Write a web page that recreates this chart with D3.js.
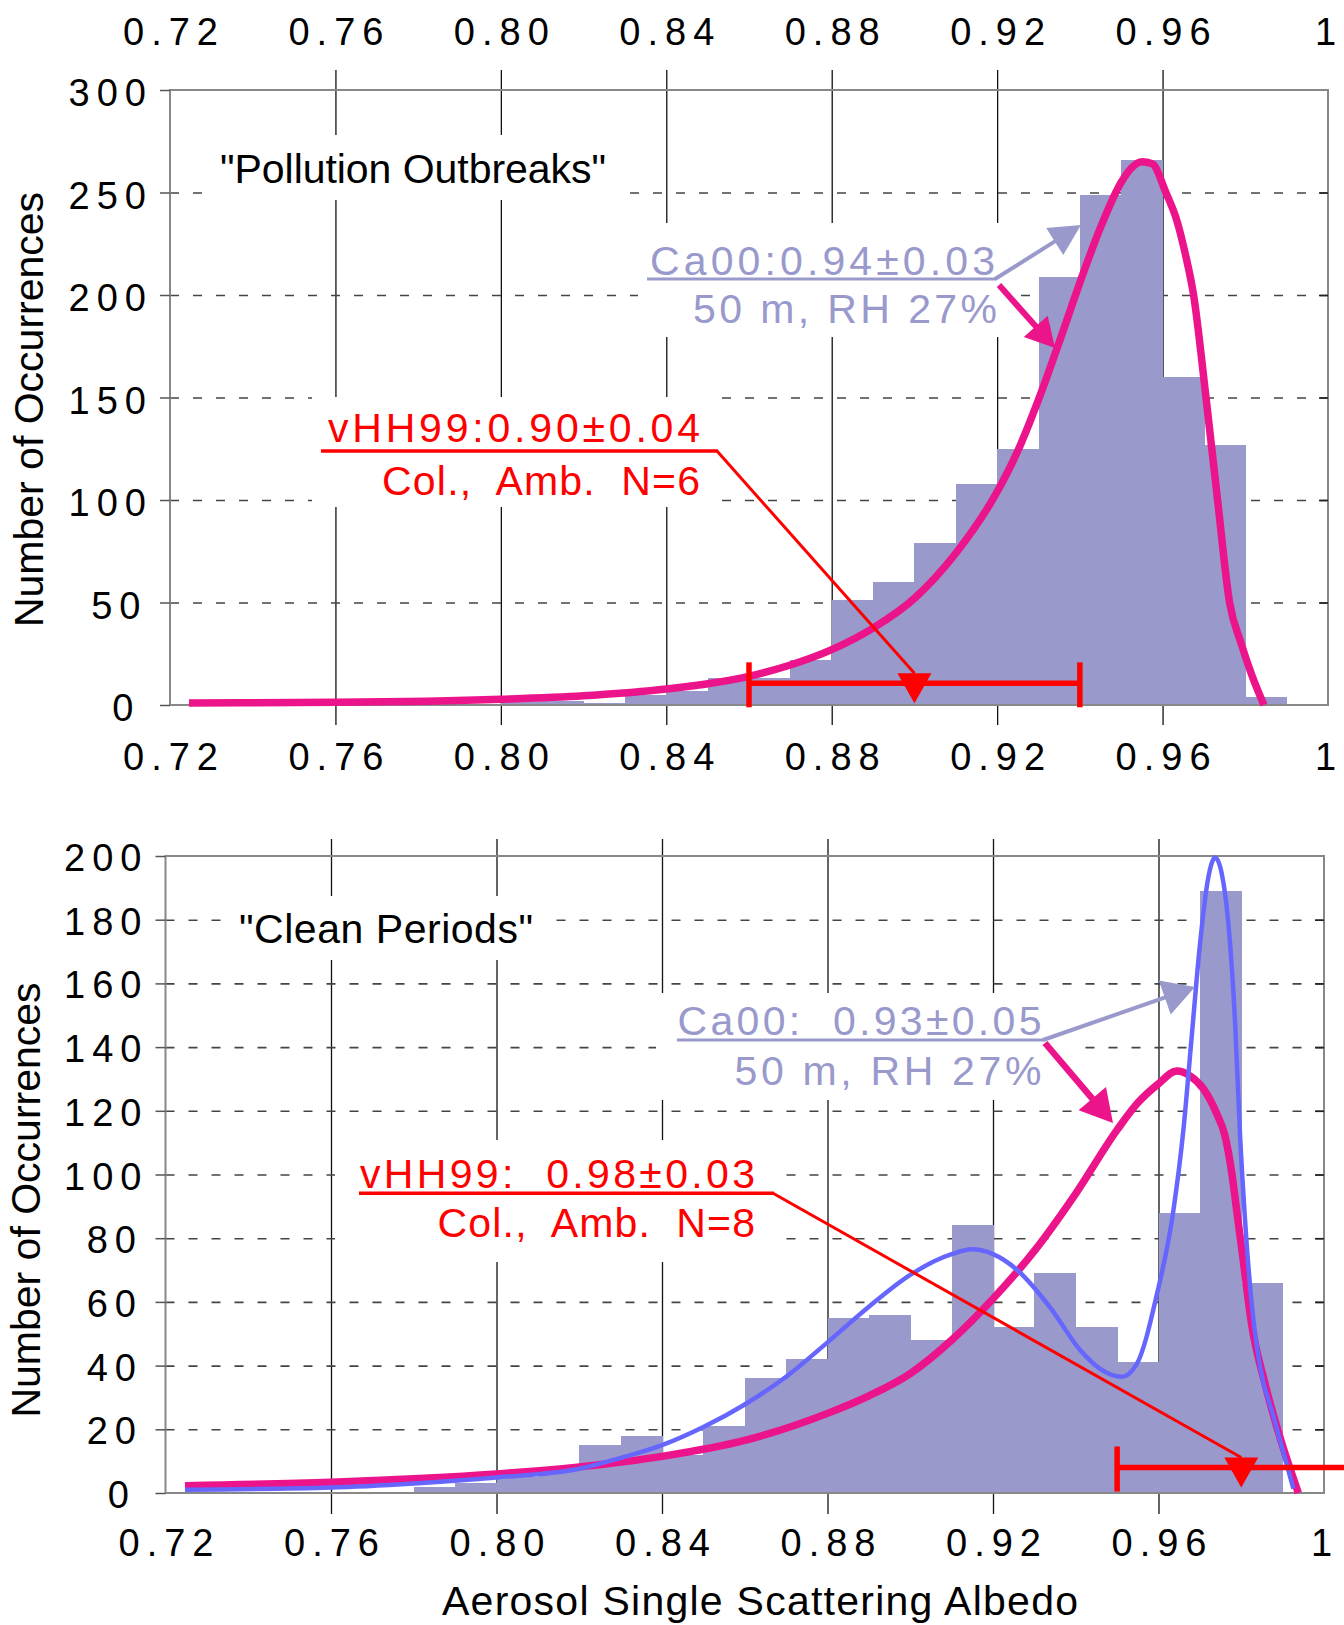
<!DOCTYPE html>
<html>
<head>
<meta charset="utf-8">
<script src="https://cdn.jsdelivr.net/npm/d3@7"></script>
<style>
  body { margin: 0; background: #fff; }
  svg text { font-family: "Liberation Sans", Arial, Helvetica, sans-serif; }
</style>
</head>
<body>
<svg id="chart" width="1344" height="1625"></svg>
<script>
// ---- values ----
var xTicks = [0.72, 0.76, 0.80, 0.84, 0.88, 0.92, 0.96, 1.0];
var xTickLabels = ["0.72", "0.76", "0.80", "0.84", "0.88", "0.92", "0.96", "1"];
var binWidth = 0.01;

// "Pollution Outbreaks"
var pollYTicks = [0, 50, 100, 150, 200, 250, 300];
var pollBins = [0.80, 0.81, 0.82, 0.83, 0.84, 0.85, 0.86, 0.87, 0.88, 0.89,
                0.90, 0.91, 0.92, 0.93, 0.94, 0.95, 0.96, 0.97, 0.98];
var pollCounts = [2, 2, 1, 5, 7, 13, 13, 22, 51, 60,
                  79, 108, 125, 209, 249, 266, 160, 127, 4];
var pollFit = [[0.7246, 1], [0.76, 1.3], [0.80, 2.8], [0.82, 4.5], [0.84, 7.8],
  [0.86, 14], [0.87, 19.5], [0.88, 27], [0.89, 37.5], [0.90, 52], [0.91, 74],
  [0.92, 104], [0.925, 124], [0.93, 149], [0.935, 177], [0.94, 206], [0.945, 233],
  [0.95, 255], [0.9525, 262], [0.955, 265], [0.9575, 264], [0.9608, 250],
  [0.9635, 236], [0.9655, 220], [0.9675, 200], [0.9705, 150], [0.9733, 100],
  [0.9762, 50], [0.979, 30], [0.9815, 15], [0.9845, 0]];

// "Clean Periods"
var cleanYTicks = [0, 20, 40, 60, 80, 100, 120, 140, 160, 180, 200];
var cleanBins = [0.78, 0.79, 0.80, 0.81, 0.82, 0.83, 0.84, 0.85, 0.86, 0.87, 0.88,
                 0.89, 0.90, 0.91, 0.92, 0.93, 0.94, 0.95, 0.96, 0.97, 0.98];
var cleanCounts = [2, 3, 5, 8, 15, 18, 12, 21, 36, 42, 55,
                   56, 48, 84, 52, 69, 52, 41, 88, 189, 66];
var cleanFit = [[0.7247, 2.3], [0.76, 3.4], [0.80, 6], [0.82, 8.2], [0.84, 11.5],
  [0.86, 16.5], [0.88, 25], [0.89, 30.5], [0.90, 37.5], [0.91, 48], [0.92, 61],
  [0.93, 76], [0.94, 94], [0.95, 114], [0.955, 122.5], [0.96, 128.5], [0.9644, 132.5],
  [0.9676, 131], [0.9708, 127], [0.9741, 119], [0.9761, 112], [0.9777, 100.6],
  [0.9789, 88.7], [0.9805, 72.8], [0.9825, 53], [0.9857, 34.5], [0.9894, 17.3],
  [0.9938, 0]];
var cleanCa00Fit = [[0.7247, 1], [0.76, 1.7], [0.78, 3], [0.80, 4.9], [0.82, 7.6],
  [0.83, 11], [0.84, 15], [0.85, 20.7], [0.86, 27.8], [0.87, 36.5], [0.88, 47.3],
  [0.89, 58.5], [0.90, 68.5], [0.91, 75], [0.915, 76.5], [0.92, 75], [0.9257, 70.2],
  [0.9338, 58.3], [0.941, 45], [0.9459, 39], [0.9511, 36.5], [0.9547, 40.4],
  [0.9596, 62.3], [0.9636, 88.7], [0.966, 113.8], [0.968, 142.9], [0.97, 172],
  [0.972, 193], [0.9737, 199.5], [0.9753, 194.4], [0.9769, 178.6], [0.9785, 148],
  [0.9797, 112.5], [0.9809, 86], [0.9825, 59.7], [0.9845, 40], [0.9878, 24],
  [0.9926, 1.4]];

// vHH99 column retrievals: mean and spread
var vhhMean = [0.90, 0.98];
var vhhSd = [0.04, 0.03];

var pink = "#ec148a", lavender = "#9999cc", blue = "#6666ff", red = "#ff0000";
var labelShift = { 1: 12.5, 2: 5.5, 3: 0 };

var svg = d3.select("#chart");

function styleXLabels(sel, yy) {
  sel.attr("y", yy).attr("dy", null)
    .attr("font-size", 38).attr("fill", "#000")
    .attr("letter-spacing", function (d, i) { return i === xTicks.length - 1 ? 0 : 7; })
    .attr("dx", function (d, i) { return i === xTicks.length - 1 ? -3 : 3.5; });
}

function drawPanel(p) {
  var x = d3.scaleLinear().domain([0.72, 1.0]).range([p.left, p.right]);
  var y = d3.scaleLinear().domain([0, p.yMax]).range([p.bottom, p.top]);
  var g = svg.append("g");

  // vertical grid, running past the frame as ticks
  var vg = g.append("g")
    .attr("transform", "translate(0," + (p.top - p.tickUp) + ")")
    .call(d3.axisBottom(x).tickValues(xTicks.slice(1, -1))
      .tickSize(p.bottom - p.top + p.tickUp + p.tickDown).tickFormat(""));
  vg.select(".domain").remove();
  vg.selectAll("line").attr("stroke", "#111").attr("stroke-width", 1.3);

  // dashed horizontal grid
  var hg = g.append("g")
    .attr("transform", "translate(" + p.left + ",0)")
    .call(d3.axisRight(y).tickValues(p.yTicks.slice(1, -1))
      .tickSize(p.right - p.left).tickFormat(""));
  hg.select(".domain").remove();
  hg.selectAll("line").attr("stroke", "#444").attr("stroke-width", 1.6)
    .attr("stroke-dasharray", "9,14");

  // white patches behind the annotation texts
  g.selectAll(".box").data(p.boxes).enter().append("rect")
    .attr("x", function (d) { return d[0]; })
    .attr("y", function (d) { return d[1]; })
    .attr("width", function (d) { return d[2] - d[0]; })
    .attr("height", function (d) { return d[3] - d[1]; })
    .attr("fill", "#fff");

  // histogram
  var bars = p.bins.map(function (b, i) { return [b, p.counts[i]]; });
  g.selectAll(".bar").data(bars).enter().append("rect")
    .attr("x", function (d) { return x(d[0]); })
    .attr("width", function (d) { return x(d[0] + binWidth) - x(d[0]) + 0.6; })
    .attr("y", function (d) { return y(d[1]); })
    .attr("height", function (d) { return y(0) - y(d[1]); })
    .attr("fill", lavender)
    .attr("shape-rendering", "crispEdges");

  // frame
  g.append("rect")
    .attr("x", p.left).attr("y", p.top)
    .attr("width", p.right - p.left).attr("height", p.bottom - p.top)
    .attr("fill", "none").attr("stroke", "#888").attr("stroke-width", 2);

  // left axis: stubs + labels
  var ya = g.append("g").attr("transform", "translate(" + p.left + ",0)")
    .call(d3.axisLeft(y).tickValues(p.yTicks).tickSize(10));
  ya.select(".domain").remove();
  ya.selectAll("line").attr("stroke", "#555").attr("stroke-width", 1.5);
  ya.selectAll("text")
    .attr("x", function (d) { return p.yLabelR - p.left + 7 - labelShift[String(d).length]; })
    .attr("dy", null).attr("y", p.yLabelDy)
    .attr("font-size", 38).attr("letter-spacing", 7).attr("fill", "#000");

  // right side inner ticks
  var yr = g.append("g").attr("transform", "translate(" + p.right + ",0)")
    .call(d3.axisLeft(y).tickValues(p.yTicks.slice(1, -1)).tickSize(9).tickFormat(""));
  yr.select(".domain").remove();
  yr.selectAll("line").attr("stroke", "#222").attr("stroke-width", 1.6);

  // bottom labels
  var xa = g.append("g").attr("transform", "translate(0," + p.bottom + ")")
    .call(d3.axisBottom(x).tickValues(xTicks).tickSize(0)
      .tickFormat(function (d, i) { return xTickLabels[i]; }));
  xa.select(".domain").remove();
  styleXLabels(xa.selectAll("text"), p.labelY - p.bottom);

  if (p.topLabelY) {
    var xt = g.append("g").attr("transform", "translate(0," + p.top + ")")
      .call(d3.axisTop(x).tickValues(xTicks).tickSize(0)
        .tickFormat(function (d, i) { return xTickLabels[i]; }));
    xt.select(".domain").remove();
    styleXLabels(xt.selectAll("text"), p.topLabelY - p.top);
  }

  // fitted curves
  var line = d3.line()
    .x(function (d) { return x(d[0]); })
    .y(function (d) { return y(d[1]); })
    .curve(d3.curveMonotoneX);
  p.fits.forEach(function (f) {
    g.append("path").datum(f[0]).attr("d", line)
      .attr("fill", "none").attr("stroke", f[1]).attr("stroke-width", f[2])
      .attr("stroke-linejoin", "round");
  });

  // y title
  g.append("text")
    .attr("transform", "translate(" + p.titleX + "," + p.titleY + ") rotate(-90)")
    .attr("text-anchor", "middle").attr("font-size", 41).attr("fill", "#000")
    .text("Number of Occurrences");

  return { x: x, y: y, g: g };
}

function label(g, t, x0, base, width, color) {
  g.append("text").attr("x", x0).attr("y", base)
    .attr("textLength", width).attr("lengthAdjust", "spacing")
    .style("white-space", "pre")
    .attr("font-size", 41).attr("fill", color).text(t);
}

function seg(g, x1, y1, x2, y2, color, w) {
  g.append("line").attr("x1", x1).attr("y1", y1).attr("x2", x2).attr("y2", y2)
    .attr("stroke", color).attr("stroke-width", w);
}

function arrow(g, x1, y1, x2, y2, color, w, len, hw) {
  var dx = x2 - x1, dy = y2 - y1, L = Math.sqrt(dx * dx + dy * dy);
  var ux = dx / L, uy = dy / L;
  var bx = x2 - ux * len, by = y2 - uy * len;
  seg(g, x1, y1, bx + ux * 2, by + uy * 2, color, w);
  g.append("path")
    .attr("d", d3.line()([[x2, y2], [bx - uy * hw, by + ux * hw], [bx + uy * hw, by - ux * hw]]) + "Z")
    .attr("fill", color);
}

function errorBar(s, mean, sd, lift) {
  var ey = s.y(0) - lift;
  var x0 = s.x(mean - sd), x1 = s.x(mean + sd), xm = s.x(mean);
  seg(s.g, x0, ey, x1, ey, red, 5.5);
  seg(s.g, x0, ey - 21, x0, ey + 24, red, 5.5);
  seg(s.g, x1, ey - 21, x1, ey + 24, red, 5.5);
  s.g.append("path")
    .attr("d", d3.line()([[xm - 17, ey - 10], [xm + 17, ey - 10], [xm, ey + 20]]) + "Z")
    .attr("fill", red);
  return [xm, ey - 10];
}

// ---- upper panel ----
var panelA = drawPanel({
  bins: pollBins, counts: pollCounts, yTicks: pollYTicks, yMax: 300,
  fits: [[pollFit, pink, 7.5]],
  left: 170, right: 1328, top: 90, bottom: 705, tickUp: 20, tickDown: 20,
  labelY: 770, topLabelY: 45, yLabelR: 146, yLabelDy: 15.5,
  titleX: 43, titleY: 409.5,
  boxes: [[203, 135, 629, 200], [638, 223, 1008, 337], [312, 397, 721, 507]]
});
panelA.g.append("text").attr("x", 220).attr("y", 183).attr("font-size", 41)
  .attr("textLength", 386).attr("fill", "#000").text("\"Pollution Outbreaks\"");
label(panelA.g, "Ca00:0.94\u00b10.03", 650, 275, 345, lavender);
label(panelA.g, "50 m, RH 27%", 693, 323, 304, lavender);
seg(panelA.g, 647, 279, 996, 279, lavender, 3);
arrow(panelA.g, 995, 279, 1081, 225, lavender, 4, 31, 16);
arrow(panelA.g, 999, 285, 1055, 348, pink, 6, 29, 16);
label(panelA.g, "vHH99:0.90\u00b10.04", 328, 442, 372, red);
label(panelA.g, "Col.,  Amb.  N=6", 382, 495, 318, red);
seg(panelA.g, 321, 451, 718, 451, red, 3.5);
var m1 = errorBar(panelA, vhhMean[0], vhhSd[0], 21.7);
seg(panelA.g, 717, 451, m1[0], m1[1], red, 3);

// ---- lower panel ----
var panelB = drawPanel({
  bins: cleanBins, counts: cleanCounts, yTicks: cleanYTicks, yMax: 200,
  fits: [[cleanFit, pink, 7.5], [cleanCa00Fit, blue, 4.5]],
  left: 165.5, right: 1324, top: 856, bottom: 1493, tickUp: 17, tickDown: 21,
  labelY: 1556, topLabelY: null, yLabelR: 141.5, yLabelDy: 14.5,
  titleX: 40, titleY: 1200,
  boxes: [[223, 896, 549, 960], [656, 993, 1085, 1100], [335, 1140, 784, 1262]]
});
panelB.g.append("text").attr("x", 239).attr("y", 943).attr("font-size", 41)
  .attr("textLength", 294).attr("fill", "#000").text("\"Clean Periods\"");
label(panelB.g, "Ca00:  0.93\u00b10.05", 677.5, 1035, 364, lavender);
label(panelB.g, "50 m, RH 27%", 734.5, 1085, 307, lavender);
seg(panelB.g, 677, 1040, 1044, 1040, lavender, 3);
arrow(panelB.g, 1043, 1040, 1195, 987, lavender, 4, 32, 18);
arrow(panelB.g, 1045, 1043, 1113, 1123, pink, 6.5, 32, 18);
label(panelB.g, "vHH99:  0.98\u00b10.03", 360, 1188, 395, red);
label(panelB.g, "Col.,  Amb.  N=8", 437.5, 1237, 317.5, red);
seg(panelB.g, 359, 1193.3, 774, 1193.3, red, 3.5);
var m2 = errorBar(panelB, vhhMean[1], vhhSd[1], 25.5);
seg(panelB.g, 773, 1193.3, m2[0], m2[1], red, 3);

// x title
svg.append("text").attr("x", 442).attr("y", 1615).attr("font-size", 41)
  .attr("textLength", 636).attr("lengthAdjust", "spacing").attr("fill", "#000")
  .text("Aerosol Single Scattering Albedo");
</script>
</body>
</html>
